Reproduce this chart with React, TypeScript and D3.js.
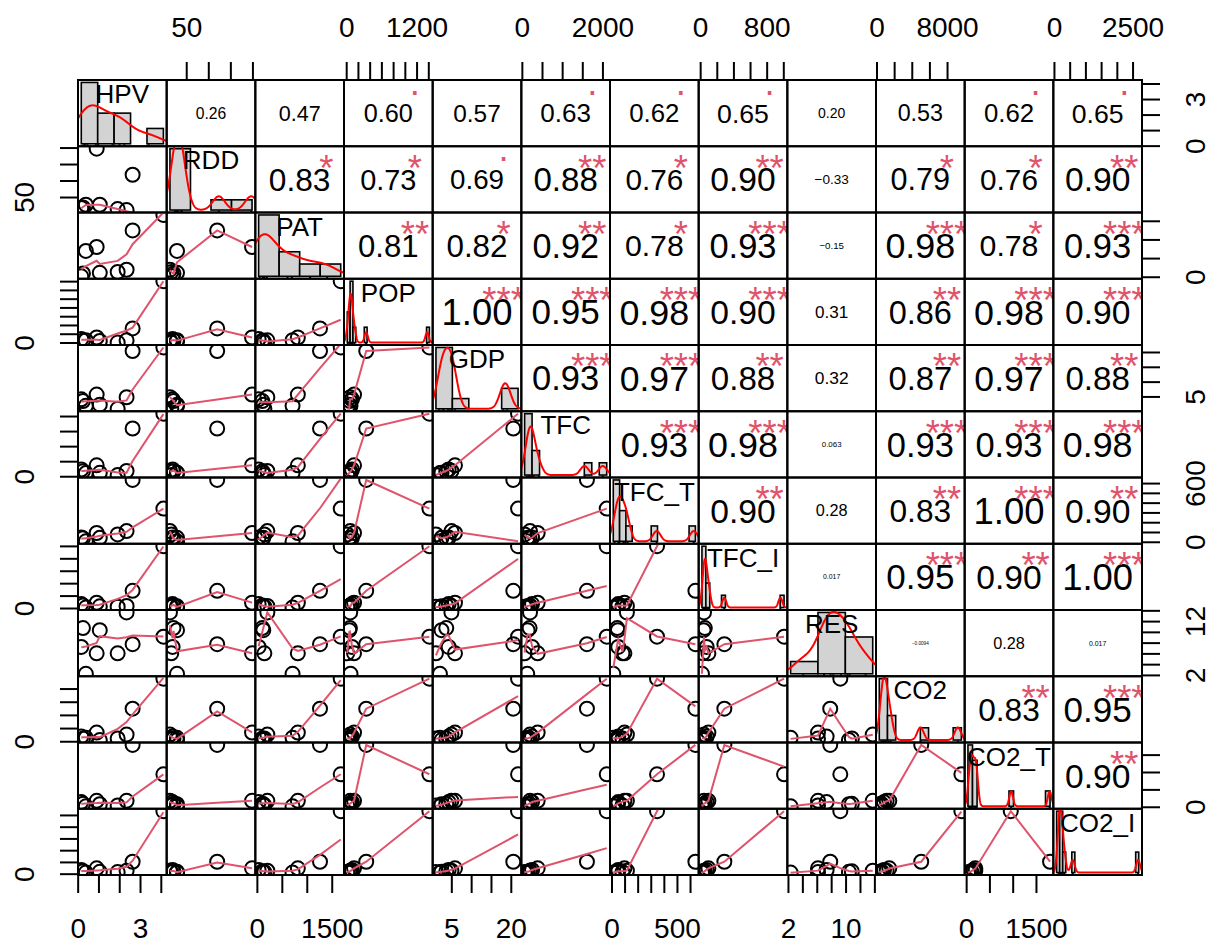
import React, { useEffect, useRef } from 'react';
import * as d3 from 'd3';

// nine observations per variable, null = missing
const HPV = [0.15, 0.23, 0.37, 0.89, 1.04, 1.9, 2.33, 2.62, 4.1];
const RDD = [18, 20, 28, 198, 28, 15, 12, 119, null];
const PAT = [25, 100, 705, 811, 119, 140, 200, 1255, 1670];
const POP = [90, 55, 65, 125, 45, 10, 60, 333, 1410];
const GDP = [4.2, 3.6, 2.0, 5.8, 2.4, 1.0, 4.9, 20.5, 21.7];
const TFC = [240, 180, 120, 380, 130, 56, 190, 1603, 2094];
const TFC_T = [48, 40, 10, 95, 45, 80, 114, 637, 344];
const TFC_I = [72, 50, 15.5, 93, 35, 29, 40, 285, 1003];
const RES = [7.3, 10.8, 2.3, 6.1, 10.4, 6.1, 13.7, 7.8, 9.2];
const CO2 = [790, 500, 600, 1395, 258, 490, 1093, 5015, 9570];
const CO2_T = [148, 100, 28, 186, 90, 52, 186, 1792, 948];
const CO2_I = [180, 120, 69, 250, 100, 90, 150, 529, 2680];

const varNames = ['HPV', 'RDD', 'PAT', 'POP', 'GDP', 'TFC', 'TFC_T', 'TFC_I', 'RES', 'CO2', 'CO2_T', 'CO2_I'];
const columns: (number | null)[][] = [HPV, RDD, PAT, POP, GDP, TFC, TFC_T, TFC_I, RES, CO2, CO2_T, CO2_I];

// correlation text (upper triangle, row by row)
const corrRows = [
  ['0.26', '0.47', '0.60', '0.57', '0.63', '0.62', '0.65', '0.20', '0.53', '0.62', '0.65'],
  ['0.83', '0.73', '0.69', '0.88', '0.76', '0.90', '-0.33', '0.79', '0.76', '0.90'],
  ['0.81', '0.82', '0.92', '0.78', '0.93', '-0.15', '0.98', '0.78', '0.93'],
  ['1.00', '0.95', '0.98', '0.90', '0.31', '0.86', '0.98', '0.90'],
  ['0.93', '0.97', '0.88', '0.32', '0.87', '0.97', '0.88'],
  ['0.93', '0.98', '0.063', '0.93', '0.93', '0.98'],
  ['0.90', '0.28', '0.83', '1.00', '0.90'],
  ['0.017', '0.95', '0.90', '1.00'],
  ['-0.0094', '0.28', '0.017'],
  ['0.83', '0.95'],
  ['0.90'],
];
const starRows = [
  ['', '', '.', '', '.', '.', '.', '', '', '.', '.'],
  ['*', '*', '.', '**', '*', '**', '', '*', '*', '**'],
  ['**', '*', '**', '*', '***', '', '***', '*', '***'],
  ['***', '***', '***', '***', '', '**', '***', '***'],
  ['***', '***', '**', '', '**', '***', '**'],
  ['***', '***', '', '***', '***', '***'],
  ['**', '', '**', '***', '**'],
  ['', '***', '**', '***'],
  ['', '', ''],
  ['**', '***'],
  ['**'],
];

// axis ticks
const tickSteps = [1, 50, 500, 200, 5, 500, 100, 200, 2, 2000, 500, 500];
const hLabels = [[0, 3], [50], [0, 1500], [0, 1200], [5, 20], [0, 2000], [0, 500], [0, 800], [2, 10], [0, 8000], [0, 1500], [0, 2500]];
const vLabels = [[0, 3], [50], [0], [0], [5], [0], [0, 600], [0], [2, 12], [0], [0], [0]];

const FONT = '"Liberation Sans", Arial, Helvetica, sans-serif';
const LEFT = 78, TOP = 80, W = 1064, H = 795, N = 12;
const PW = W / N, PH = H / N;
const SMOOTH = '#DF536B';

const CW: Record<string, number> = { '.': 0.278, '-': 0.333, '\u2212': 0.584, '*': 0.389 };
const emWidth = (s: string) => s.split('').reduce((a, c) => a + (CW[c] ?? 0.556), 0);

const isNum = (v: any): v is number => v !== null && v !== undefined && isFinite(v);

function rPretty(lo: number, up: number, ndiv: number, minN: number) {
  const h = 1.5, h5 = 0.5 + 1.5 * h;
  const dx = up - lo;
  let cell: number, small: boolean;
  if (dx === 0 && up === 0) { cell = 1; small = true; }
  else {
    cell = Math.max(Math.abs(lo), Math.abs(up));
    let U = 1 + (h5 >= 1.5 * h + 0.5 ? 1 / (1 + h) : 1.5 / (1 + h5));
    U *= Math.max(1, ndiv) * 2.220446e-16;
    small = dx < cell * U * 3;
  }
  if (small) { if (cell > 10) cell = 9 + cell / 10; cell *= 0.75; if (minN > 1) cell /= minN; }
  else { cell = dx; if (ndiv > 1) cell /= ndiv; }
  const base = Math.pow(10, Math.floor(Math.log10(cell)));
  let unit = base;
  if (2 * base - cell < h * (cell - unit)) {
    unit = 2 * base;
    if (5 * base - cell < h5 * (cell - unit)) {
      unit = 5 * base;
      if (10 * base - cell < h * (cell - unit)) unit = 10 * base;
    }
  }
  let ns = Math.floor(lo / unit + 1e-10), nu = Math.ceil(up / unit - 1e-10);
  while (ns * unit > lo + 1e-10 * unit) ns--;
  while (nu * unit < up - 1e-10 * unit) nu++;
  let k = Math.floor(0.5 + nu - ns);
  if (k < minN) {
    k = minN - k;
    if (ns >= 0) { nu += Math.floor(k / 2); ns -= Math.floor(k / 2) + (k % 2); }
    else { ns -= Math.floor(k / 2); nu += Math.floor(k / 2) + (k % 2); }
  }
  return d3.range(ns, nu + 1).map(v => v * unit);
}

function nclassFD(s: number[]) {
  let h = 2 * ((d3.quantileSorted(s, 0.75) as number) - (d3.quantileSorted(s, 0.25) as number));
  if (h === 0) {
    let al = 1 / 4;
    while (h === 0 && (al = al / 2) >= 1 / 512)
      h = ((d3.quantileSorted(s, 1 - al) as number) - (d3.quantileSorted(s, al) as number)) / (1 - 2 * al);
  }
  return h > 0 ? Math.max(1, Math.ceil((s[s.length - 1] - s[0]) / (h * Math.pow(s.length, -1 / 3)))) : 1;
}

function histFD(v: number[]) {
  const s = v.slice().sort((a, b) => a - b);
  const breaks = rPretty(s[0], s[s.length - 1], nclassFD(s), 1);
  const counts = breaks.slice(1).map(() => 0);
  s.forEach(x => {
    let k = 0;
    while (k < counts.length - 1 && x > breaks[k + 1]) k++;
    counts[k]++;
  });
  const dens = counts.map((c, k) => c / (s.length * (breaks[k + 1] - breaks[k])));
  return { breaks, dens };
}

function kde(v: number[]) {
  const n = v.length;
  const sd = d3.deviation(v) as number;
  const s = v.slice().sort((a, b) => a - b);
  const iqr = (d3.quantileSorted(s, 0.75) as number) - (d3.quantileSorted(s, 0.25) as number);
  let lo = Math.min(sd, iqr / 1.34);
  if (!lo) lo = sd || Math.abs(v[0]) || 1;
  const bw = 0.9 * lo * Math.pow(n, -0.2);
  const from = s[0] - 3 * bw, to = s[n - 1] + 3 * bw;
  return d3.range(512).map(k => {
    const t = from + (to - from) * k / 511;
    const d = v.reduce((a, x) => a + Math.exp(-0.5 * ((t - x) / bw) ** 2), 0) / (n * bw * Math.sqrt(2 * Math.PI));
    return [t, d] as [number, number];
  });
}

function lowess(xIn: number[], yIn: number[], f = 2 / 3, iter = 3) {
  const idx = d3.range(xIn.length).sort((a, b) => xIn[a] - xIn[b]);
  const x = idx.map(i => xIn[i]), y = idx.map(i => yIn[i]);
  const n = x.length;
  const ys = new Array(n).fill(0), rw = new Array(n).fill(1), res = new Array(n).fill(0);
  if (n < 2) return x.map((xx, i) => [xx, y[i]]);
  const range = x[n - 1] - x[0];
  const delta = 0.01 * range;
  const ns = Math.max(2, Math.min(n, Math.floor(f * n + 1e-7)));
  const lowest = (xs: number, nleft: number, nright: number, userw: boolean): [number, boolean] => {
    const h = Math.max(xs - x[nleft], x[nright] - xs);
    const h9 = 0.999 * h, h1 = 0.001 * h;
    let a = 0, j = nleft;
    while (j < n) {
      res[j] = 0;
      const r = Math.abs(x[j] - xs);
      if (r <= h9) {
        res[j] = r <= h1 ? 1 : Math.pow(1 - Math.pow(r / h, 3), 3);
        if (userw) res[j] *= rw[j];
        a += res[j];
      } else if (x[j] > xs) break;
      j++;
    }
    const nrt = j - 1;
    if (a <= 0) return [0, false];
    for (j = nleft; j <= nrt; j++) res[j] /= a;
    if (h > 0) {
      a = 0;
      for (j = nleft; j <= nrt; j++) a += res[j] * x[j];
      let b = xs - a, c = 0;
      for (j = nleft; j <= nrt; j++) c += res[j] * (x[j] - a) * (x[j] - a);
      if (Math.sqrt(c) > 0.001 * range) {
        b /= c;
        for (j = nleft; j <= nrt; j++) res[j] *= b * (x[j] - a) + 1;
      }
    }
    let yv = 0;
    for (j = nleft; j <= nrt; j++) yv += res[j] * y[j];
    return [yv, true];
  };
  let it = 1;
  while (it <= iter + 1) {
    let nleft = 0, nright = ns - 1, last = -1, i = 0;
    for (;;) {
      if (nright < n - 1) {
        const d1 = x[i] - x[nleft], d2 = x[nright + 1] - x[i];
        if (d1 > d2) { nleft++; nright++; continue; }
      }
      const [yv, ok] = lowest(x[i], nleft, nright, it > 1);
      ys[i] = ok ? yv : y[i];
      if (last < i - 1) {
        const denom = x[i] - x[last];
        for (let j = last + 1; j < i; j++) {
          const alpha = (x[j] - x[last]) / denom;
          ys[j] = alpha * ys[i] + (1 - alpha) * ys[last];
        }
      }
      last = i;
      const cut = x[last] + delta;
      for (i = last + 1; i < n; i++) {
        if (x[i] > cut) break;
        if (x[i] === x[last]) { ys[i] = ys[last]; last = i; }
      }
      i = Math.max(last + 1, i - 1);
      if (last >= n - 1) break;
    }
    for (let k = 0; k < n; k++) res[k] = y[k] - ys[k];
    let sc = 0;
    for (let k = 0; k < n; k++) sc += Math.abs(res[k]);
    sc /= n;
    if (it > iter) break;
    const ar = res.map(Math.abs);
    const sorted = ar.slice().sort((a, b) => a - b);
    const m1 = Math.floor(n / 2);
    const cmad = n % 2 === 0 ? 3 * (sorted[m1] + sorted[n - m1 - 1]) : 6 * sorted[m1];
    if (cmad < 1e-7 * sc) break;
    const c9 = 0.999 * cmad, c1 = 0.001 * cmad;
    for (let k = 0; k < n; k++) {
      const r = ar[k];
      rw[k] = r <= c1 ? 1 : r <= c9 ? Math.pow(1 - (r / cmad) ** 2, 2) : 0;
    }
    it++;
  }
  return x.map((xx, k) => [xx, ys[k]]);
}

const App = () => {
  const ref = useRef<SVGSVGElement>(null);

  useEffect(() => {
    const svg = d3.select(ref.current);
    svg.selectAll('*').remove();

    const domains = columns.map(col => {
      const v = col.filter(isNum);
      const lo = d3.min(v) as number, hi = d3.max(v) as number;
      const r = hi - lo;
      return [lo - 0.04 * r, hi + 0.04 * r];
    });
    const xs = domains.map((d, j) => d3.scaleLinear().domain(d).range([LEFT + j * PW, LEFT + (j + 1) * PW]));
    const ys = domains.map((d, i) => d3.scaleLinear().domain(d).range([TOP + (i + 1) * PH, TOP + i * PH]));
    const ticksOf = (k: number) => {
      const [a, b] = domains[k];
      const st = tickSteps[k];
      return d3.range(Math.ceil(a / st - 1e-9), Math.floor(b / st + 1e-9) + 1).map(t => t * st);
    };

    const defs = svg.append('defs');
    const line = d3.line();

    for (let i = 0; i < N; i++) {
      for (let j = 0; j < N; j++) {
        const x0 = LEFT + j * PW, y0 = TOP + i * PH, x1 = x0 + PW, y1 = y0 + PH;
        const cid = `clip-${i}-${j}`;
        defs.append('clipPath').attr('id', cid).append('rect')
          .attr('x', x0).attr('y', y0).attr('width', PW).attr('height', PH);
        const g = svg.append('g').attr('clip-path', `url(#${cid})`);

        if (i > j) {
          // scatter + lowess
          const px: number[] = [], py: number[] = [];
          columns[j].forEach((v, k) => {
            const w = columns[i][k];
            if (isNum(v) && isNum(w)) { px.push(v); py.push(w); }
          });
          px.forEach((v, k) => {
            g.append('circle').attr('cx', xs[j](v)).attr('cy', ys[i](py[k])).attr('r', 7)
              .attr('fill', 'none').attr('stroke', '#000').attr('stroke-width', 2);
          });
          const sm = lowess(px, py).map(([a, b]) => [xs[j](a), ys[i](b)] as [number, number]);
          g.append('path').attr('d', line(sm)).attr('fill', 'none')
            .attr('stroke', SMOOTH).attr('stroke-width', 2);
        } else if (i < j) {
          const raw = corrRows[i][j - i - 1];
          const txt = raw.replace('-', '\u2212');
          const r = Math.abs(parseFloat(raw));
          const fs0 = (0.8 * PW) / emWidth(txt);
          const fs = (fs0 * (r + 0.3)) / 1.3;
          g.append('text').attr('x', x0 + PW / 2).attr('y', y0 + PH / 2 + 0.358 * fs)
            .attr('text-anchor', 'middle').attr('font-family', FONT).attr('font-size', fs)
            .attr('fill', '#000').text(txt);
          const st = starRows[i][j - i - 1];
          if (st) {
            const cy = y0 + 0.2 * PH;
            g.append('text').attr('x', x0 + 0.8 * PW)
              .attr('y', st === '.' ? cy + 0.05 * fs0 : cy + 0.58 * fs0)
              .attr('text-anchor', 'middle').attr('font-family', FONT).attr('font-size', fs0)
              .attr('fill', SMOOTH).text(st);
          }
        } else {
          // histogram + density + rug + name
          const v = columns[i].filter(isNum);
          const { breaks, dens } = histFD(v);
          const b0 = breaks[0], bk = breaks[breaks.length - 1];
          const md = d3.max(dens) as number;
          const hx = d3.scaleLinear().domain([b0 - 0.04 * (bk - b0), bk + 0.04 * (bk - b0)]).range([x0, x1]);
          const hy = d3.scaleLinear().domain([-0.04 * md, md * 1.04]).range([y1, y0]);
          dens.forEach((d, k) => {
            g.append('rect').attr('x', hx(breaks[k])).attr('y', hy(d))
              .attr('width', hx(breaks[k + 1]) - hx(breaks[k])).attr('height', hy(0) - hy(d))
              .attr('fill', '#D3D3D3').attr('stroke', '#000').attr('stroke-width', 1.6);
          });
          const dl = kde(v).map(([a, b]) => [hx(a), hy(b)] as [number, number]);
          g.append('path').attr('d', line(dl)).attr('fill', 'none')
            .attr('stroke', '#FF0000').attr('stroke-width', 2);
          v.forEach(x => {
            g.append('line').attr('x1', hx(x)).attr('x2', hx(x)).attr('y1', y1).attr('y2', y1 - 0.03 * PH)
              .attr('stroke', '#000').attr('stroke-width', 2);
          });
          g.append('text').attr('x', x0 + PW / 2).attr('y', y0 + 23)
            .attr('text-anchor', 'middle').attr('font-family', FONT).attr('font-size', 26)
            .attr('fill', '#000').text(varNames[i]);
        }

        svg.append('rect').attr('x', x0).attr('y', y0).attr('width', PW).attr('height', PH)
          .attr('fill', 'none').attr('stroke', '#000').attr('stroke-width', 2);
      }
    }

    // outer axes
    const ax = svg.append('g').attr('stroke', '#000').attr('stroke-width', 2);
    const lab = svg.append('g').attr('font-family', FONT).attr('font-size', 28).attr('fill', '#000');
    const TL = 18;
    for (let k = 0; k < N; k++) {
      const tks = ticksOf(k);
      if (k % 2 === 1) {
        // top axis for column k, left axis for row k
        tks.forEach(t => {
          ax.append('line').attr('x1', xs[k](t)).attr('x2', xs[k](t)).attr('y1', TOP).attr('y2', TOP - TL);
          ax.append('line').attr('y1', ys[k](t)).attr('y2', ys[k](t)).attr('x1', LEFT).attr('x2', LEFT - TL);
        });
        hLabels[k].forEach(t => {
          lab.append('text').attr('x', xs[k](t)).attr('y', 37).attr('text-anchor', 'middle').text(t);
        });
        vLabels[k].forEach(t => {
          lab.append('text').attr('transform', `translate(34,${ys[k](t)}) rotate(-90)`)
            .attr('text-anchor', 'middle').text(t);
        });
      } else {
        // bottom axis for column k, right axis for row k
        tks.forEach(t => {
          ax.append('line').attr('x1', xs[k](t)).attr('x2', xs[k](t)).attr('y1', TOP + H).attr('y2', TOP + H + TL);
          ax.append('line').attr('y1', ys[k](t)).attr('y2', ys[k](t)).attr('x1', LEFT + W).attr('x2', LEFT + W + TL);
        });
        hLabels[k].forEach(t => {
          lab.append('text').attr('x', xs[k](t)).attr('y', 938).attr('text-anchor', 'middle').text(t);
        });
        vLabels[k].forEach(t => {
          lab.append('text').attr('transform', `translate(1205,${ys[k](t)}) rotate(-90)`)
            .attr('text-anchor', 'middle').text(t);
        });
      }
    }
  }, []);

  return (
    <svg ref={ref} width={1211} height={945}
      style={{ position: 'absolute', left: 0, top: 0, background: '#fff' }} />
  );
};

export default App;
